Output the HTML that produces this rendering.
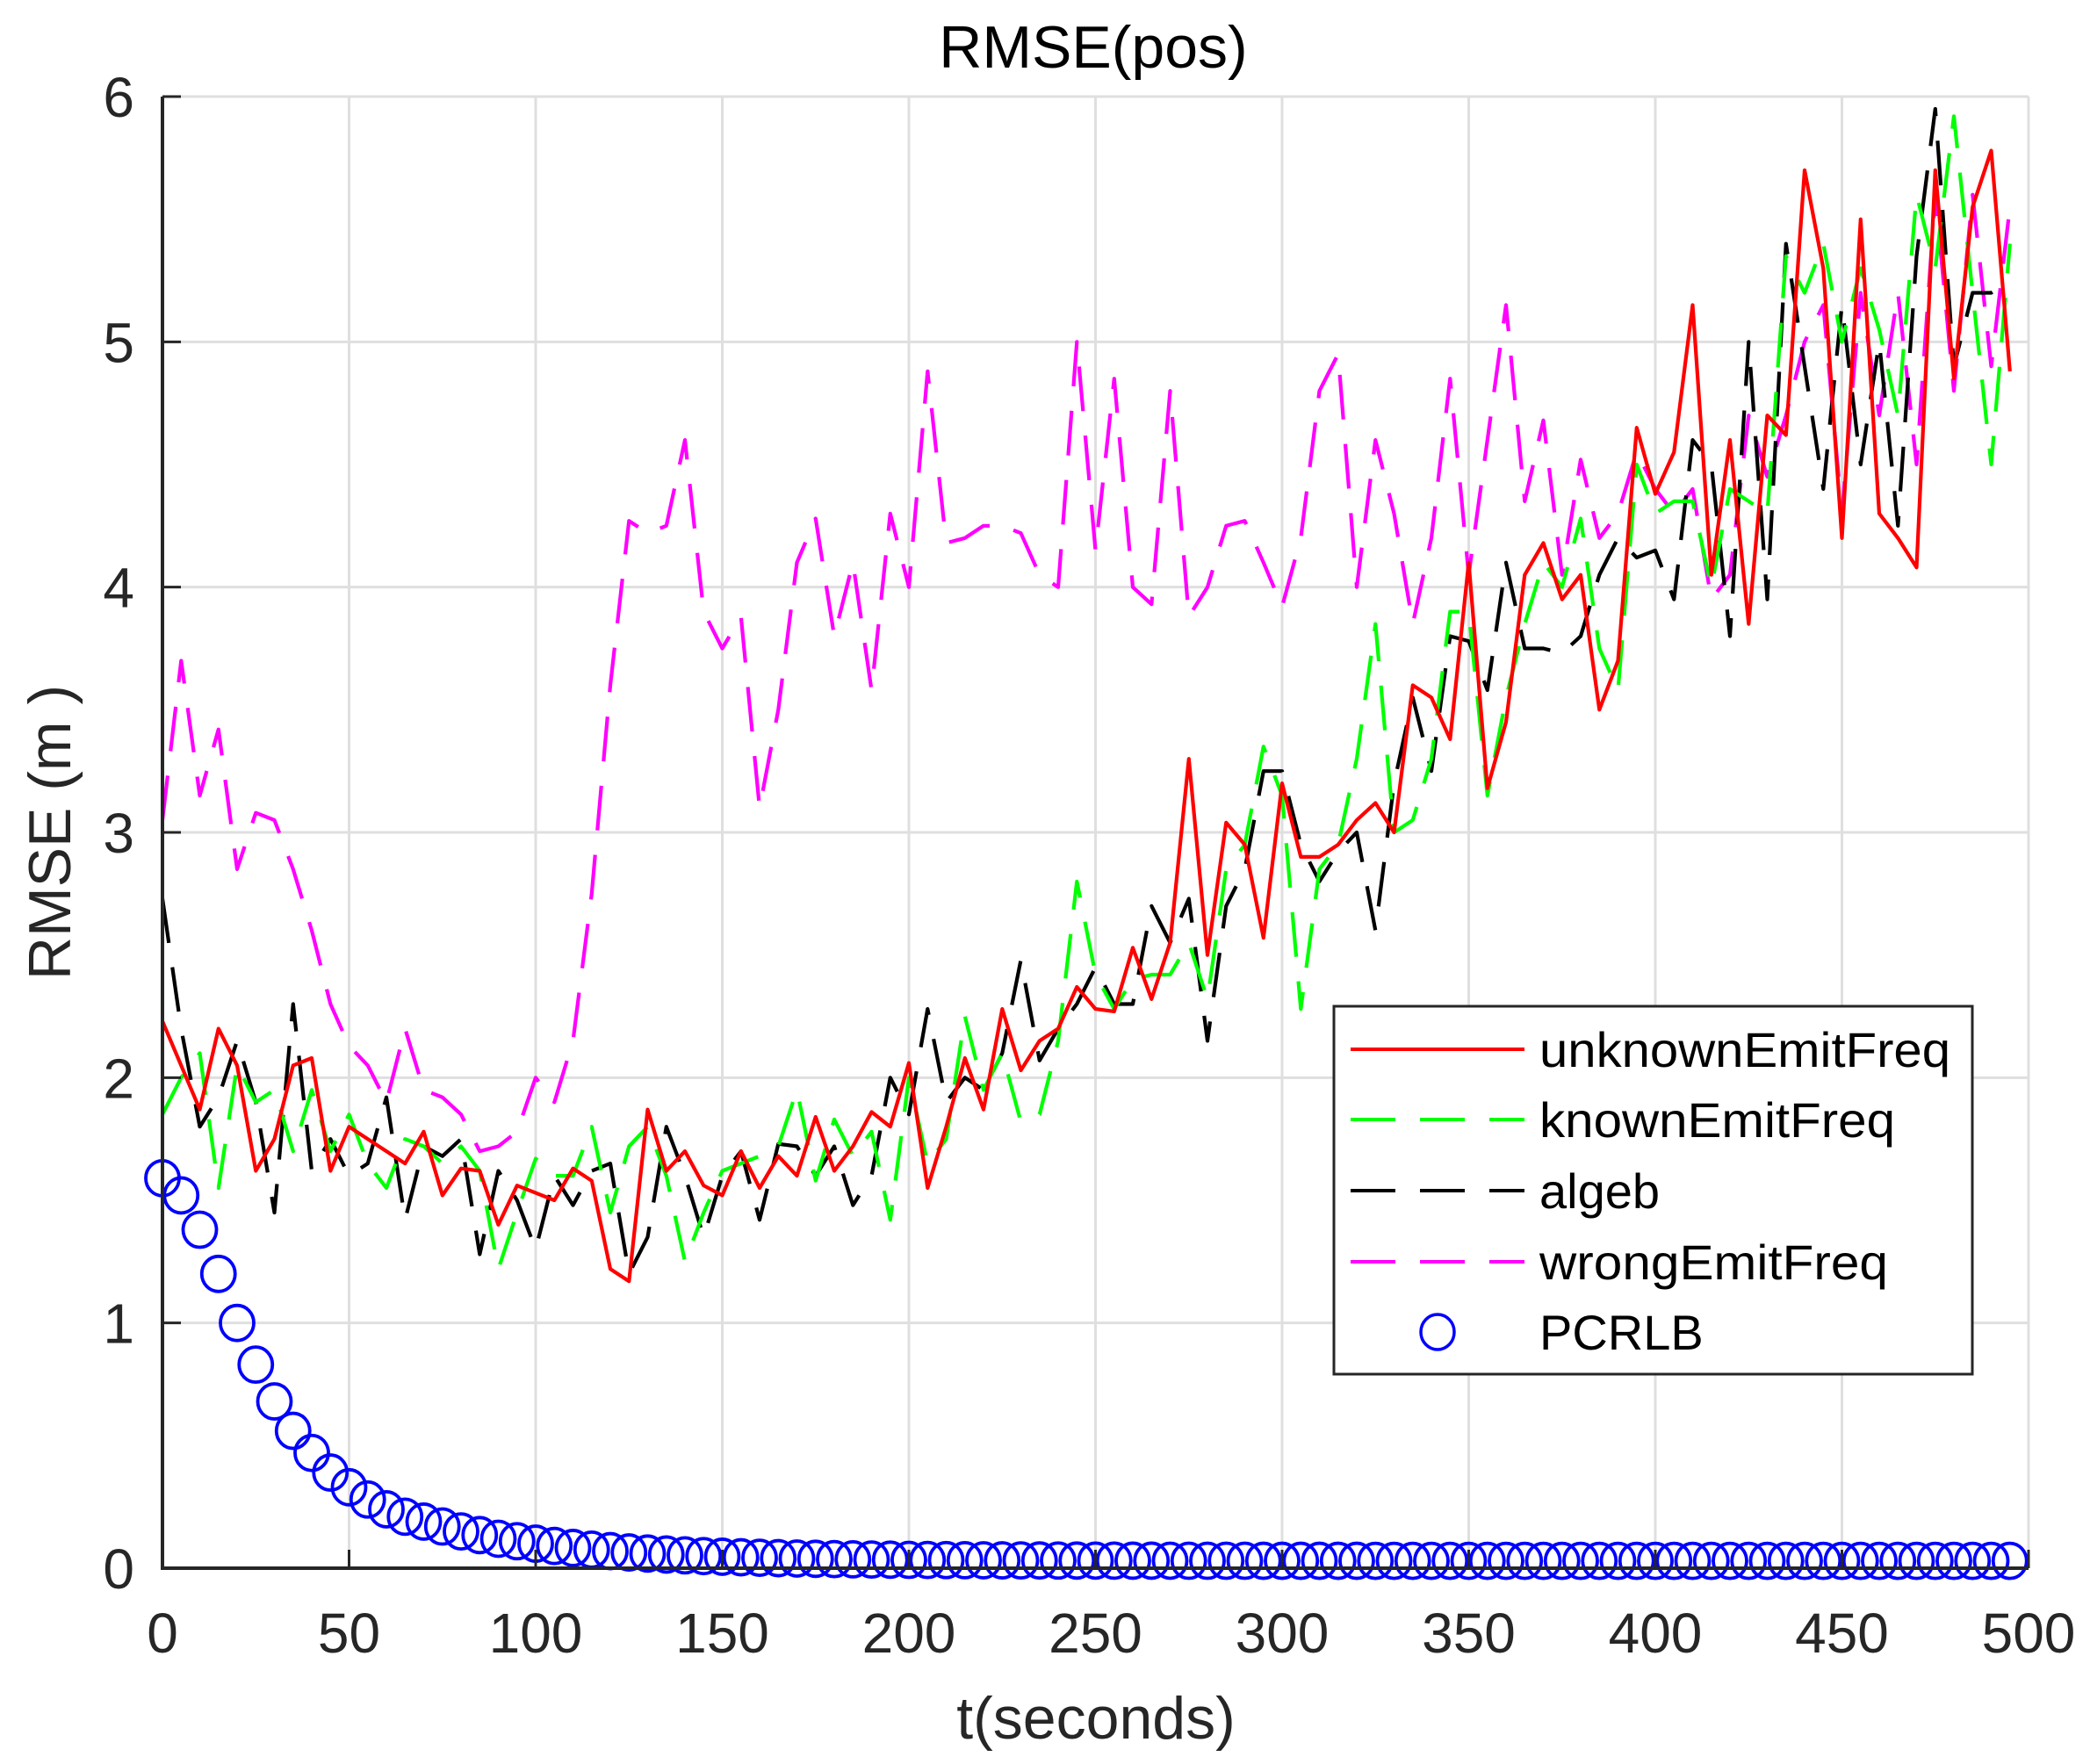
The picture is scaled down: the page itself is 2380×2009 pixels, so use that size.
<!DOCTYPE html>
<html><head><meta charset="utf-8"><style>
html,body{margin:0;padding:0;background:#fff}
svg{display:block}
text{font-family:"Liberation Sans",Arial,sans-serif}
</style></head><body>
<svg id="s" width="2380" height="2009" xmlns="http://www.w3.org/2000/svg">
<rect width="2380" height="2009" fill="#fff"/>
<g id="grid" stroke="#dfdfdf" stroke-width="3"></g>
<g id="data"></g>
<g id="axes"></g>
<text x="1245" y="77" font-size="68" text-anchor="middle" fill="#000">RMSE(pos)</text>
<text x="1248" y="1980" font-size="68" text-anchor="middle" fill="#262626">t(seconds)</text>
<text transform="translate(80,948) rotate(-90)" font-size="68" text-anchor="middle" fill="#262626">RMSE (m )</text>
<g id="legend">
<rect x="1519" y="1146" width="727" height="419" fill="#fff" stroke="#262626" stroke-width="3"/>
<line x1="1538" y1="1195" x2="1736" y2="1195" stroke="#f00" stroke-width="4"/>
<line x1="1538" y1="1275" x2="1736" y2="1275" stroke="#0f0" stroke-width="4" stroke-dasharray="51 28"/>
<line x1="1538" y1="1356" x2="1736" y2="1356" stroke="#000" stroke-width="4" stroke-dasharray="51 28"/>
<line x1="1538" y1="1437" x2="1736" y2="1437" stroke="#f0f" stroke-width="4" stroke-dasharray="51 28"/>
<ellipse cx="1637" cy="1517" rx="19" ry="20" fill="none" stroke="#00f" stroke-width="3.5"/>
<g font-size="56" fill="#000">
<text x="1753" y="1215" textLength="468" lengthAdjust="spacingAndGlyphs">unknownEmitFreq</text>
<text x="1753" y="1295" textLength="405" lengthAdjust="spacingAndGlyphs">knownEmitFreq</text>
<text x="1753" y="1376">algeb</text>
<text x="1753" y="1457" textLength="397" lengthAdjust="spacingAndGlyphs">wrongEmitFreq</text>
<text x="1753" y="1537">PCRLB</text>
</g>
</g>
</svg>
<script>
var X0=185,X1=2310,Y0=1786,Y1=110;
function px(t){return X0+(X1-X0)*t/500}
function py(v){return Y0-(Y0-Y1)*v/6}
var NS="http://www.w3.org/2000/svg";
function el(p,n,a){var e=document.createElementNS(NS,n);for(var k in a)e.setAttribute(k,a[k]);p.appendChild(e);return e}
var g=document.getElementById('grid'),ax=document.getElementById('axes'),d=document.getElementById('data');
for(var i=1;i<10;i++)el(g,'line',{x1:px(i*50),y1:Y1,x2:px(i*50),y2:Y0});
for(var i=1;i<=6;i++)el(g,'line',{x1:X0,y1:py(i),x2:X1,y2:py(i)});
el(g,'line',{x1:X1,y1:Y1,x2:X1,y2:Y0});
el(ax,'path',{d:'M'+X0+' '+Y1+'V'+Y0+'H'+X1,fill:'none',stroke:'#262626',"stroke-width":4});
for(var i=0;i<=10;i++){var x=px(i*50);el(ax,'line',{x1:x,y1:Y0,x2:x,y2:Y0-21,stroke:'#262626','stroke-width':3});
var t=el(ax,'text',{x:x,y:1882,'font-size':64,'text-anchor':'middle',fill:'#262626'});t.textContent=i*50;}
for(var i=0;i<=6;i++){var y=py(i);el(ax,'line',{x1:X0,y1:y,x2:X0+21,y2:y,stroke:'#262626','stroke-width':3});
var t=el(ax,'text',{x:153,y:y+23,'font-size':64,'text-anchor':'end',fill:'#262626'});t.textContent=i;}
var red=[2.23,2.05,1.87,2.2,2.05,1.62,1.75,2.05,2.08,1.62,1.8,1.75,1.7,1.65,1.78,1.52,1.63,1.62,1.4,1.56,1.53,1.5,1.63,1.58,1.22,1.17,1.87,1.62,1.7,1.56,1.52,1.7,1.55,1.68,1.6,1.84,1.62,1.72,1.86,1.8,2.06,1.55,1.8,2.08,1.87,2.28,2.03,2.15,2.2,2.37,2.28,2.27,2.53,2.32,2.55,3.3,2.5,3.04,2.95,2.57,3.2,2.9,2.9,2.95,3.05,3.12,3.0,3.6,3.55,3.38,4.1,3.18,3.45,4.05,4.18,3.95,4.05,3.5,3.7,4.65,4.38,4.55,5.15,4.05,4.6,3.85,4.7,4.62,5.7,5.3,4.2,5.5,4.3,4.2,4.08,5.7,4.85,5.55,5.78,4.88];
var green=[1.85,2.0,2.1,1.55,2.05,1.9,1.95,1.7,1.95,1.7,1.85,1.65,1.55,1.75,1.72,1.65,1.72,1.62,1.22,1.45,1.67,1.6,1.6,1.8,1.45,1.72,1.8,1.6,1.25,1.45,1.62,1.65,1.68,1.72,1.95,1.58,1.83,1.68,1.78,1.42,2.0,1.65,1.75,2.25,1.95,2.1,1.82,1.85,2.15,2.8,2.42,2.28,2.4,2.42,2.42,2.55,2.32,2.85,2.95,3.35,3.15,2.28,2.85,2.95,3.3,3.85,3.0,3.05,3.3,3.9,3.9,3.15,3.55,3.85,4.1,4.0,4.28,3.75,3.58,4.5,4.3,4.35,4.35,4.0,4.4,4.35,4.3,5.35,5.2,5.4,5.0,5.3,5.05,4.7,5.6,5.3,5.92,5.2,4.5,5.4];
var black=[2.73,2.2,1.8,1.92,2.15,1.9,1.45,2.3,1.62,1.75,1.6,1.65,1.92,1.42,1.72,1.68,1.75,1.28,1.62,1.5,1.3,1.6,1.48,1.62,1.65,1.2,1.35,1.8,1.6,1.35,1.6,1.7,1.42,1.73,1.72,1.6,1.72,1.48,1.6,2.0,1.85,2.28,1.9,2.0,1.95,2.1,2.48,2.07,2.2,2.3,2.45,2.3,2.3,2.7,2.55,2.73,2.15,2.7,2.85,3.25,3.25,2.95,2.8,2.92,3.0,2.6,3.2,3.55,3.25,3.8,3.78,3.58,4.1,3.75,3.75,3.73,3.8,4.05,4.2,4.12,4.15,3.95,4.6,4.5,3.8,5.0,3.95,5.4,4.9,4.4,5.15,4.5,5.0,4.25,5.35,5.95,4.9,5.2,5.2,5.25];
var mag=[3.05,3.7,3.15,3.42,2.85,3.08,3.05,2.85,2.6,2.3,2.13,2.05,1.9,2.2,1.95,1.92,1.85,1.7,1.72,1.78,2.0,1.9,2.15,2.75,3.6,4.27,4.22,4.25,4.6,3.9,3.75,3.88,3.1,3.5,4.1,4.28,3.8,4.1,3.58,4.3,4.0,4.88,4.18,4.2,4.25,4.25,4.22,4.05,4.0,5.0,4.15,4.85,4.0,3.93,4.8,3.88,4.0,4.25,4.27,4.1,3.92,4.2,4.8,4.95,4.0,4.6,4.3,3.85,4.2,4.85,4.05,4.6,5.15,4.35,4.68,4.05,4.52,4.2,4.3,4.55,4.4,4.3,4.4,3.95,4.05,4.7,4.45,4.7,5.0,5.15,4.3,5.2,4.7,5.2,4.5,5.6,4.8,5.6,4.9,5.55];
function line(arr,col,dash){var p='';for(var i=0;i<arr.length;i++)p+=(i?'L':'M')+px(i*5).toFixed(1)+' '+py(arr[i]).toFixed(1);
var a={d:p,fill:'none',stroke:col,'stroke-width':4.2,'stroke-linejoin':'round'};if(dash)a['stroke-dasharray']=dash;el(d,'path',a);}
line(mag,'#f0f','51 28');line(black,'#000','51 28');line(green,'#0f0','51 28');line(red,'#f00');
var pc=[1.59,1.52,1.38,1.2,1.0,0.83,0.68,0.56,0.47,0.39,0.33,0.28,0.24,0.21,0.19,0.17,0.15,0.135,0.12,0.11,0.1];
for(var i=0;i<100;i++){var v=i<pc.length?pc[i]:0.03+0.07*Math.exp(-(i*5-100)/35);
el(d,'ellipse',{cx:px(i*5),cy:py(v),rx:19,ry:20,fill:'none',stroke:'#00f','stroke-width':3.8});}
</script>
</body></html>
